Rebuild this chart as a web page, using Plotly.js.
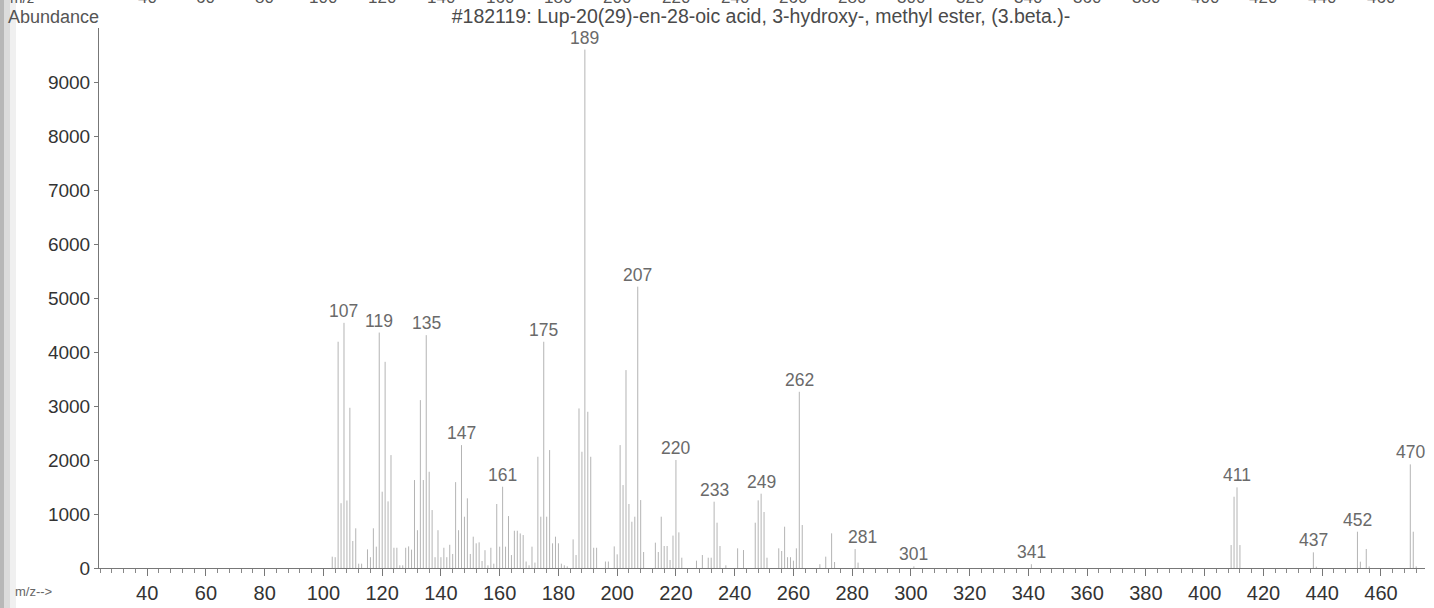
<!DOCTYPE html>
<html>
<head>
<meta charset="utf-8">
<script src="https://cdn.plot.ly/plotly-3.0.1.min.js"></script>
<style>html,body{margin:0;padding:0;background:#fff;}#chart{width:1434px;height:608px;}</style>
</head>
<body>
<div id="chart"></div>
<script>
// m/z values and abundances
const mzValues = [103,104,105,106,107,108,109,110,111,112,113,115,116,117,118,119,120,121,122,123,124,125,126,127,128,129,130,131,132,133,134,135,136,137,138,139,140,141,142,143,144,145,146,147,148,149,150,151,152,153,154,155,156,157,158,159,160,161,162,163,164,165,166,167,168,169,170,171,172,173,174,175,176,177,178,179,180,181,182,183,185,186,187,188,189,190,191,192,193,196,197,199,200,201,202,203,204,205,206,207,208,209,213,214,215,216,217,218,219,220,221,222,227,229,231,232,233,234,235,237,241,243,247,248,249,250,251,255,256,257,258,259,260,261,262,263,269,271,273,274,281,282,301,341,409,410,411,412,437,438,452,453,455,456,470,471,472];
const abundance = [210,200,4190,1200,4540,1250,2967,500,735,80,80,345,200,735,395,4360,1413,3818,1234,2091,375,375,50,50,375,400,340,1629,700,3109,1629,4312,1782,1073,200,700,200,375,200,430,260,1590,700,2276,950,1290,260,580,457,475,130,330,50,375,80,1185,395,1505,395,962,240,690,690,640,610,120,50,395,100,2060,950,4190,950,2184,457,580,457,80,50,30,530,240,2955,2153,9600,2893,2060,375,375,120,120,400,253,2276,1536,3665,1185,857,950,5210,1258,296,469,296,950,407,407,148,600,2000,660,191,136,240,191,191,1228,839,407,50,364,333,839,1252,1376,1037,191,364,315,765,200,200,136,364,3263,796,70,210,642,111,350,100,30,70,425,1320,1493,425,290,25,672,117,352,30,1919,672,30];
const labelledPeaks = [107,119,135,147,161,175,189,207,220,233,249,262,281,301,341,411,437,452,470];
const yTickValues = [0,1000,2000,3000,4000,5000,6000,7000,8000,9000];
const topRowTicks = [40,60,80,100,120,140,160,180,200,220,240,260,280,300,320,340,360,380,400,420,440,460];
const titleText = "#182119: Lup-20(29)-en-28-oic acid, 3-hydroxy-, methyl ester, (3.beta.)-";

const FONT = '"Liberation Sans", Arial, sans-serif';

// build stick x/y arrays
const sx = [], sy = [];
mzValues.forEach((m, i) => { sx.push(m, m, null); sy.push(0, abundance[i], null); });

const traces = [{
  type: 'scatter', mode: 'lines', x: sx, y: sy,
  line: {color: '#b4b4b4', width: 1}, hoverinfo: 'skip', showlegend: false
}];

const annotations = [];
labelledPeaks.forEach(m => {
  const v = abundance[mzValues.indexOf(m)];
  annotations.push({
    x: m, y: v, xref: 'x', yref: 'y', text: String(m), showarrow: false,
    xanchor: 'center', yanchor: 'bottom', yshift: 0, xshift: (m === 281 ? 7 : 0),
    font: {family: FONT, size: 17.5, color: '#6a6a6a'}
  });
});
// cut-off tick row of the spectrum above
topRowTicks.forEach(t => {
  annotations.push({
    x: t, y: 1 + 31/540, xref: 'x', yref: 'paper', text: String(t), showarrow: false,
    xanchor: 'center', yanchor: 'middle', font: {family: FONT, size: 17, color: '#555'}
  });
});
annotations.push({x: -91/1326, y: 1 + 31/540, xref: 'paper', yref: 'paper', text: 'm/z', showarrow: false,
  xanchor: 'left', yanchor: 'middle', font: {family: FONT, size: 15, color: '#555'}});
annotations.push({x: -93/1326, y: 1 + 11/540, xref: 'paper', yref: 'paper', text: 'Abundance', showarrow: false,
  xanchor: 'left', yanchor: 'middle', font: {family: FONT, size: 18, color: '#555'}});
annotations.push({x: -86/1326, y: -23/540, xref: 'paper', yref: 'paper', text: 'm/z-->', showarrow: false,
  xanchor: 'left', yanchor: 'middle', font: {family: FONT, size: 13, color: '#666'}});

const layout = {
  width: 1434, height: 608,
  margin: {l: 99, r: 9, t: 28, b: 40, pad: 0},
  paper_bgcolor: '#fff', plot_bgcolor: '#fff',
  showlegend: false,
  title: {text: titleText, x: 761/1434, xanchor: 'center', xref: 'container', y: 1 - 16/608, yanchor: 'middle', yref: 'container',
    font: {family: FONT, size: 19.5, color: '#4a4a4a'}},
  xaxis: {
    range: [23.6, 475], tick0: 0, dtick: 20, ticks: 'outside', ticklen: 7, tickwidth: 1, tickcolor: '#777',
    showline: true, linecolor: '#777', linewidth: 1, showgrid: false, zeroline: false,
    tickfont: {family: FONT, size: 20, color: '#333'},
    minor: {tick0: 0, dtick: 4, ticks: 'outside', ticklen: 4, tickcolor: '#888', showgrid: false}
  },
  yaxis: {
    range: [0, 10000], tickmode: 'array', tickvals: yTickValues, ticktext: yTickValues.map(String),
    ticks: 'outside', ticklen: 4, tickwidth: 1, tickcolor: '#777',
    showline: true, linecolor: '#777', linewidth: 1, showgrid: false, zeroline: false,
    tickfont: {family: FONT, size: 19, color: '#333'}
  },
  annotations: annotations,
  shapes: [
    {type: 'rect', xref: 'paper', yref: 'paper', x0: -99/1326, x1: -95/1326, y0: -40/540, y1: 1 + 28/540, fillcolor: '#b8b8b8', line: {width: 0}, layer: 'below'},
    {type: 'rect', xref: 'paper', yref: 'paper', x0: -95/1326, x1: -89/1326, y0: -40/540, y1: 1 + 28/540, fillcolor: '#dcdcdc', line: {width: 0}, layer: 'below'},
    {type: 'rect', xref: 'paper', yref: 'paper', x0: -89/1326, x1: -83/1326, y0: -40/540, y1: 1 + 28/540, fillcolor: '#f0f0f0', line: {width: 0}, layer: 'below'}
  ]
};

Plotly.newPlot('chart', traces, layout, {staticPlot: true, displayModeBar: false});
</script>
</body>
</html>
